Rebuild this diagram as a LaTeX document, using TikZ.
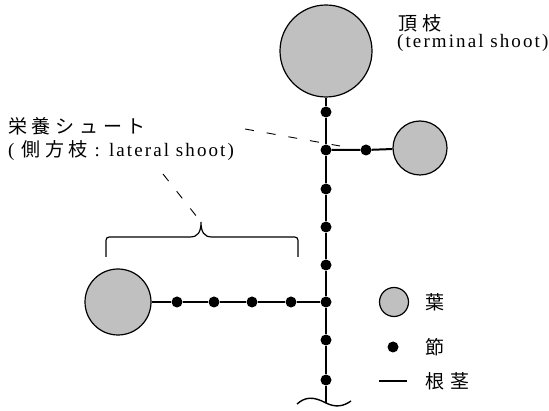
\documentclass[tikz,border=0pt]{standalone}
\usepackage{fontspec}
\setmainfont{Liberation Serif}
\newfontfamily\lat[LetterSpace=11]{Liberation Serif}
\newfontfamily\jp[LetterSpace=25]{Noto Sans CJK JP}
\definecolor{leafgray}{RGB}{192,192,192}
\begin{document}
\begin{tikzpicture}[x=1pt,y=-1pt,
  leaf/.style={circle, draw=black, fill=leafgray, line width=1.2pt, inner sep=0pt, minimum size=#1},
  knot/.style={circle, fill=black, inner sep=0pt, minimum size=11pt},
  stemline/.style={line width=2pt},
  leader/.style={line width=0.9pt, dash pattern=on 9pt off 13pt},
  lbl/.style={anchor=base west, inner sep=0pt, font=\fontsize{19}{22}\selectfont\lat}]
\useasboundingbox (0,0) rectangle (549,411);

% main axis: terminal leaf, nodes along the rhizome
\node[leaf=92pt] (top) at (326,51) {};
\node[knot] (s1) at (326,112) {};
\node[knot] (b1) at (326,150) {};
\node[knot] (s3) at (326,189) {};
\node[knot] (s4) at (326,227) {};
\node[knot] (s5) at (326,265) {};
\node[knot] (b2) at (326,302) {};
\node[knot] (s7) at (326,340) {};
\node[knot] (s8) at (326,380) {};
\coordinate (base) at (326,403);

% short side branch on the right
\node[knot] (r1) at (366,150) {};
\node[leaf=54pt] (rleaf) at (420,148) {};

% long side branch on the left
\node[knot] (l4) at (291,302) {};
\node[knot] (l3) at (252,302) {};
\node[knot] (l2) at (214,302) {};
\node[knot] (l1) at (177,302) {};
\node[leaf=66pt] (lleaf) at (118,302) {};

\draw[stemline] (top) -- (s1) -- (b1) -- (s3) -- (s4) -- (s5) -- (b2) -- (s7) -- (s8) -- (base);
\draw[stemline] (b1) -- (r1) -- (rleaf);
\draw[stemline] (b2) -- (l4) -- (l3) -- (l2) -- (l1) -- (lleaf);

% broken-off end of the rhizome
\coordinate (wl) at (297,404);
\coordinate (wr) at (351,401);
\draw[line width=1.4pt] (wl) .. controls (305,397) and (313,396) .. (base)
  .. controls (336,408) and (344,406) .. (wr);

% brace over the lateral shoot
\coordinate (tip) at (201,222);
\draw[line width=1.2pt] (106,257) -- (106,244) .. controls (106,237) .. (113,237)
  -- (190,237) .. controls (198,237) and (201,232) .. (tip)
  .. controls (201,232) and (204,237) .. (212,237)
  -- (291,237) .. controls (298,237) .. (298,244) -- (298,257);

% labels
\node[lbl] (tlab1) at (398,31) {\jp 頂\kern5pt 枝};
\node[lbl] (tlab2) at (397,48) {(terminal shoot)};
\node[lbl] (slab1) at (8,134) {\jp 栄養シュート};
\node[lbl] (slab2) at (8,157) {( \jp 側方枝\lat{} : lateral shoot)};

% leader lines
\coordinate (d1a) at (163,174);
\coordinate (d2a) at (245,129);
\coordinate (d2b) at (340,146);
\draw[leader] (d1a) -- (tip);
\draw[leader] (d2a) -- (d2b);

% legend
\node[leaf=29pt] (kleaf) at (394,302) {};
\node[knot] (kknot) at (393,347) {};
\coordinate (kl1) at (379,381);
\coordinate (kl2) at (407,381);
\draw[stemline] (kl1) -- (kl2);
\node[lbl, anchor=west] (t1) at (425,302) {\jp 葉};
\node[lbl, anchor=west] (t2) at (425,347) {\jp 節};
\node[lbl, anchor=west] (t3) at (425,381) {\jp 根\kern6pt 茎};
\end{tikzpicture}
\end{document}
